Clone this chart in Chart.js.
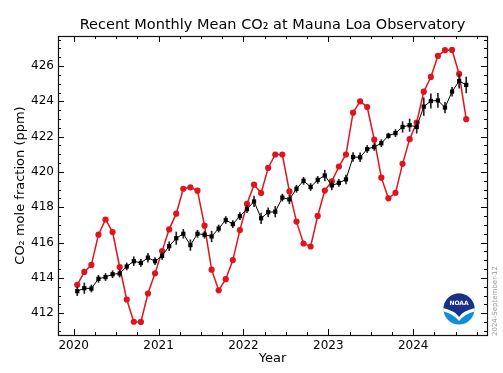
<!DOCTYPE html>
<html><head><meta charset="utf-8">
<script src="https://cdn.jsdelivr.net/npm/chart.js@4/dist/chart.umd.min.js"></script>
<style>html,body{margin:0;padding:0;background:#fff;}#wrap{width:503px;height:373px;}</style>
</head><body><div id="wrap"><canvas id="c" width="503" height="373"></canvas></div>
<script>
const months = [
 '2020-01','2020-02','2020-03','2020-04','2020-05','2020-06','2020-07','2020-08','2020-09','2020-10','2020-11','2020-12',
 '2021-01','2021-02','2021-03','2021-04','2021-05','2021-06','2021-07','2021-08','2021-09','2021-10','2021-11','2021-12',
 '2022-01','2022-02','2022-03','2022-04','2022-05','2022-06','2022-07','2022-08','2022-09','2022-10','2022-11','2022-12',
 '2023-01','2023-02','2023-03','2023-04','2023-05','2023-06','2023-07','2023-08','2023-09','2023-10','2023-11','2023-12',
 '2024-01','2024-02','2024-03','2024-04','2024-05','2024-06','2024-07','2024-08'];
const monthlyMean = [
 413.61,414.34,414.74,416.45,417.31,416.60,414.62,412.78,411.52,411.51,413.12,414.26,
 415.52,416.75,417.64,419.05,419.13,418.94,416.96,414.47,413.30,413.93,415.01,416.71,
 418.19,419.28,418.81,420.23,420.99,420.99,418.90,417.19,415.95,415.78,417.51,418.95,
 419.47,420.31,420.99,423.36,424.00,423.68,421.83,419.68,418.51,418.82,420.46,421.86,
 422.80,424.55,425.38,426.57,426.90,426.91,425.55,422.99];
const deseasonalized = [
 413.25,413.42,413.40,413.95,414.05,414.21,414.25,414.65,414.95,414.85,415.15,414.95,
 415.25,415.80,416.25,416.50,415.86,416.50,416.45,416.35,416.80,417.28,417.05,417.50,
 417.90,418.33,417.38,417.72,417.75,418.55,418.45,419.05,419.50,419.15,419.55,419.80,
 419.24,419.38,419.58,420.85,420.83,421.30,421.42,421.63,422.05,422.20,422.55,422.65,
 422.55,423.70,424.02,424.05,423.65,424.55,425.15,424.93];
const deseasonErr = [
 0.25,0.30,0.20,0.20,0.20,0.20,0.20,0.20,0.25,0.20,0.25,0.20,
 0.20,0.25,0.35,0.25,0.30,0.20,0.20,0.30,0.20,0.20,0.20,0.20,
 0.20,0.30,0.30,0.25,0.30,0.20,0.25,0.20,0.20,0.20,0.20,0.30,
 0.25,0.20,0.25,0.25,0.25,0.20,0.20,0.20,0.15,0.20,0.30,0.35,
 0.35,0.50,0.40,0.40,0.30,0.25,0.40,0.45];
const yearTicks = [2020, 2021, 2022, 2023, 2024];
const ppmTicks = [412, 414, 416, 418, 420, 422, 424, 426];

const decYear = months.map(m => { const [y, mo] = m.split('-').map(Number); return y + (mo - 0.5) / 12; });
const FONT = "'DejaVu Sans', sans-serif";

const decorPlugin = {
  id: 'decor',
  afterDraw(chart) {
    const ctx = chart.ctx, a = chart.chartArea, xs = chart.scales.x, ys = chart.scales.y;
    ctx.save();
    ctx.strokeStyle = '#000'; ctx.lineWidth = 1;
    const line = (x1, y1, x2, y2) => { ctx.beginPath(); ctx.moveTo(x1, y1); ctx.lineTo(x2, y2); ctx.stroke(); };
    for (let k = Math.ceil(xs.min * 4); k <= Math.floor(xs.max * 4); k++) {
      const px = Math.round(xs.getPixelForValue(k / 4)) + 0.5;
      const L = (k % 4 === 0) ? 6 : 3;
      line(px, a.bottom, px, a.bottom - L); line(px, a.top, px, a.top + L);
    }
    for (let k = Math.ceil(ys.min * 2); k <= Math.floor(ys.max * 2); k++) {
      const py = Math.round(ys.getPixelForValue(k / 2)) + 0.5;
      const L = (k % 4 === 0) ? 6 : 3;
      line(a.left, py, a.left + L, py); line(a.right, py, a.right - L, py);
    }
    ctx.lineWidth = 1.2; ctx.strokeStyle = '#111';
    ctx.strokeRect(Math.round(a.left) + 0.5, Math.round(a.top) + 0.5, Math.round(a.right - a.left), Math.round(a.bottom - a.top));
    // NOAA logo
    const cx = 459, cy = 309, r = 15.5;
    ctx.beginPath(); ctx.arc(cx, cy, r, 0, Math.PI * 2); ctx.fillStyle = '#0d8fd8'; ctx.fill();
    ctx.save(); ctx.beginPath(); ctx.arc(cx, cy, r, 0, Math.PI * 2); ctx.clip();
    ctx.beginPath(); ctx.moveTo(cx - r - 1, cy - r - 1); ctx.lineTo(cx + r + 1, cy - r - 1); ctx.lineTo(cx + r + 1, cy - 1);
    ctx.quadraticCurveTo(cx + 4, cy + 2, cx, cy + 8);
    ctx.quadraticCurveTo(cx - 4, cy + 2, cx - r - 1, cy - 1); ctx.closePath();
    ctx.fillStyle = '#1b2f86'; ctx.fill();
    ctx.beginPath(); ctx.moveTo(cx - r - 1, cy - 1); ctx.quadraticCurveTo(cx - 4, cy + 2, cx, cy + 8);
    ctx.quadraticCurveTo(cx + 4, cy + 2, cx + r + 1, cy - 1);
    ctx.lineTo(cx + r + 1, cy + 2); ctx.quadraticCurveTo(cx + 5, cy + 5, cx, cy + 12);
    ctx.quadraticCurveTo(cx - 5, cy + 5, cx - r - 1, cy + 2); ctx.closePath();
    ctx.fillStyle = '#fff'; ctx.fill();
    ctx.restore();
    ctx.fillStyle = '#fff'; ctx.font = "bold 6px " + FONT; ctx.textAlign = 'center'; ctx.textBaseline = 'middle';
    ctx.fillText('NOAA', cx, cy - 6);
    // date stamp
    ctx.save(); ctx.translate(495, 301); ctx.rotate(-Math.PI / 2);
    ctx.font = "7px " + FONT; ctx.fillStyle = '#9a9a9a'; ctx.textAlign = 'center'; ctx.textBaseline = 'middle';
    ctx.fillText('2024-September-12', 0, 0); ctx.restore();
    ctx.restore();
  }
};

new Chart(document.getElementById('c'), {
  type: 'line',
  data: {
    datasets: [
      {
        label: 'Monthly mean', order: 3,
        data: decYear.map((x, i) => ({ x, y: monthlyMean[i] })),
        borderColor: '#e0141c', backgroundColor: '#e0141c', borderWidth: 1.5,
        pointRadius: 3.1, pointStyle: 'circle', pointBorderWidth: 0, tension: 0
      },
      {
        type: 'bar', label: 'Uncertainty', order: 2,
        data: decYear.map((x, i) => ({ x, y: [deseasonalized[i] - deseasonErr[i], deseasonalized[i] + deseasonErr[i]] })),
        backgroundColor: '#222', barThickness: 1, grouped: false
      },
      {
        label: 'Deseasonalized', order: 1,
        data: decYear.map((x, i) => ({ x, y: deseasonalized[i] })),
        borderColor: '#000', backgroundColor: '#000', borderWidth: 1,
        pointRadius: 3.0, pointStyle: 'rect', pointBorderWidth: 0, tension: 0
      }
    ]
  },
  options: {
    responsive: false, animation: false, devicePixelRatio: 1,
    layout: { padding: { left: 0, right: 16, top: 0, bottom: 0 } },
    plugins: {
      legend: { display: false }, tooltip: { enabled: false },
      title: {
        display: true, fullSize: false,
        text: 'Recent Monthly Mean CO\u2082 at Mauna Loa Observatory',
        color: '#000', font: { family: FONT, size: 14.5, weight: 'normal' },
        padding: { top: 17, bottom: 1.6 }
      }
    },
    scales: {
      x: {
        type: 'linear', min: 2019.815, max: 2024.87, offset: false,
        grid: { display: false, drawTicks: false }, border: { display: false },
        afterBuildTicks: s => { s.ticks = yearTicks.map(v => ({ value: v })); },
        afterFit: s => { s.height = 38; },
        ticks: { color: '#000', font: { family: FONT, size: 12 }, padding: 4, maxRotation: 0, callback: v => String(v) },
        title: { display: true, text: 'Year', color: '#000', font: { family: FONT, size: 13 }, padding: { top: 0, bottom: 7 } }
      },
      y: {
        type: 'linear', min: 410.77, max: 427.7,
        grid: { display: false, drawTicks: false }, border: { display: false },
        afterBuildTicks: s => { s.ticks = ppmTicks.map(v => ({ value: v })); },
        afterFit: s => { s.width = 58; },
        ticks: { color: '#000', font: { family: FONT, size: 12 }, padding: 4, callback: v => String(v) },
        title: { display: true, text: 'CO\u2082 mole fraction (ppm)', color: '#000', font: { family: FONT, size: 13 }, padding: { top: 13, bottom: 0 } }
      }
    }
  },
  plugins: [decorPlugin]
});
</script></body></html>
